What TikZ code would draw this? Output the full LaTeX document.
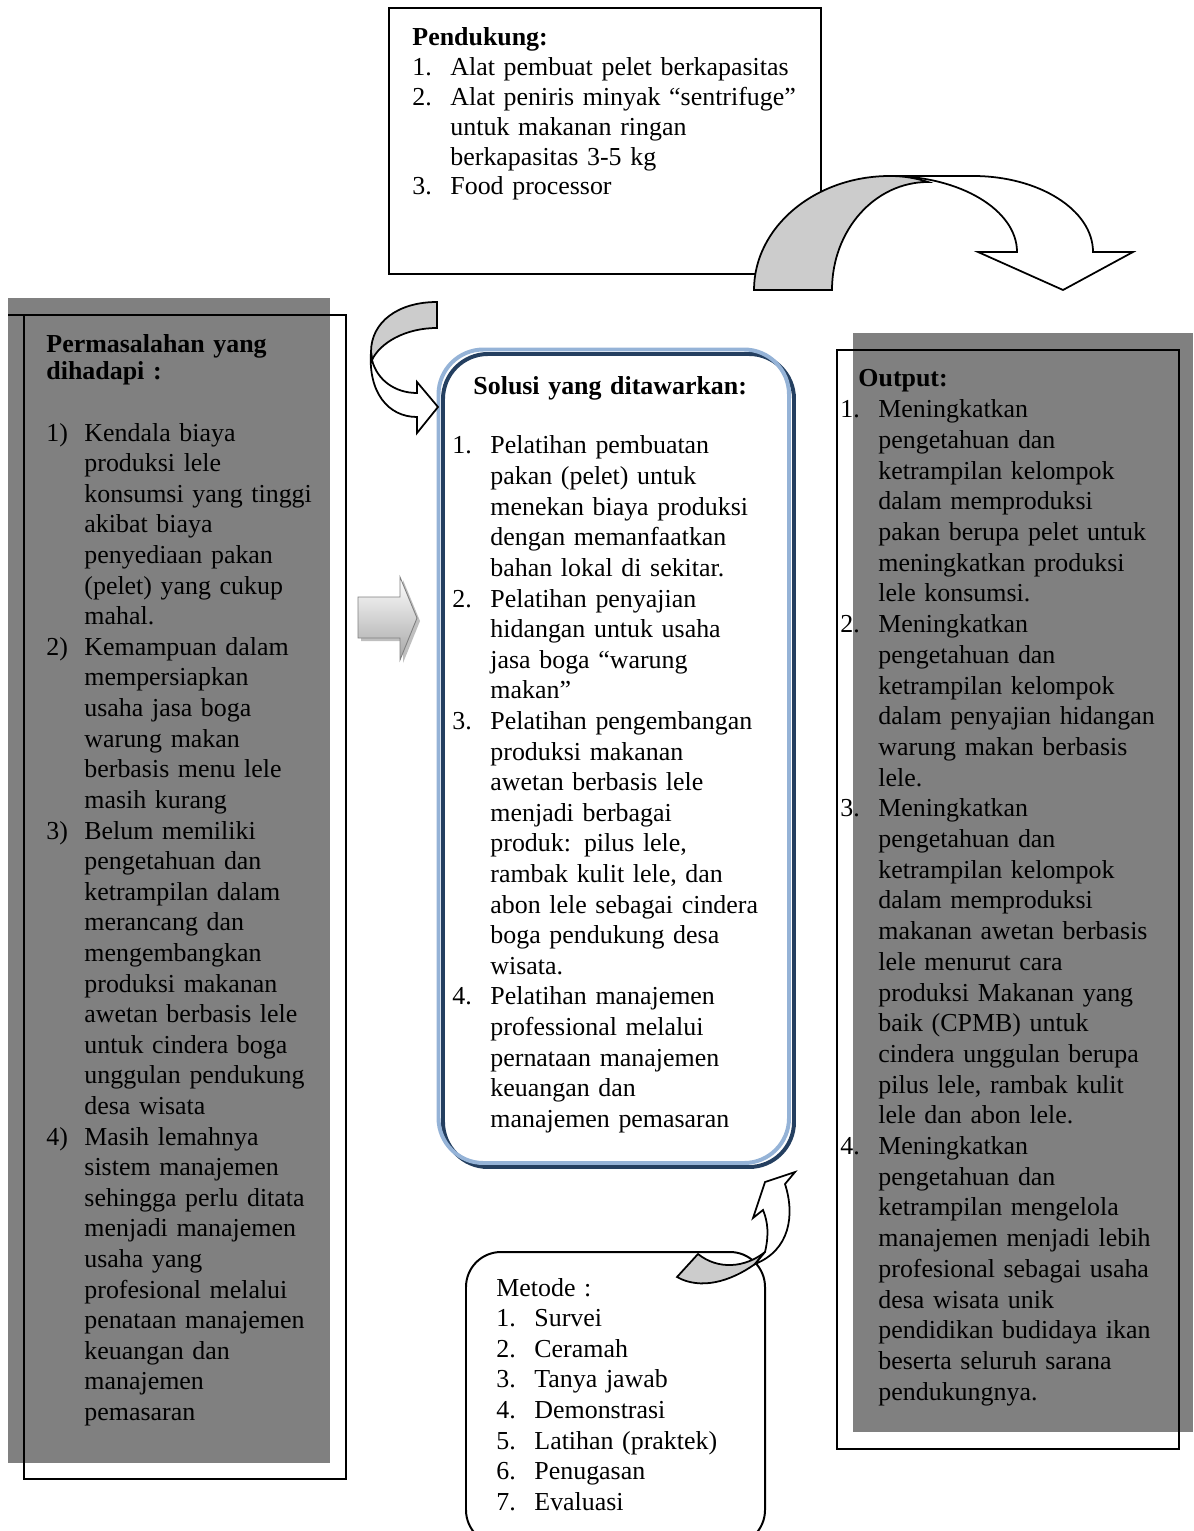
\documentclass[tikz,border=0pt]{standalone}
\usepackage{fontspec}
\setmainfont{Liberation Serif}
\definecolor{abu}{HTML}{808080}
\definecolor{abuMuda}{HTML}{CCCCCC}
\definecolor{biruMuda}{HTML}{95B3D7}
\definecolor{biruTua}{HTML}{243F60}
\newlength{\pxu}\setlength{\pxu}{0.016cm}
\newcommand{\butir}[1]{\par\noindent\hangindent=38\pxu\hangafter=1\relax\makebox[38\pxu][l]{#1}\ignorespaces}
\newcommand{\br}{\hfil\break}
\tikzset{teks/.style={anchor=base west,inner sep=0pt,text width=8cm,font=\fontsize{11.8}{30.6\pxu}\selectfont}}
\begin{document}
\begin{tikzpicture}[x=0.016cm,y=-0.016cm]
        \useasboundingbox (0,0) rectangle (1193,1531);
        % kotak
        \fill[abu] (8,298) rectangle (330,1463);
        \draw[line width=1.2pt] (8,315) -- (346,315) -- (346,1479) -- (24,1479) -- (24,315);
        \fill[abu] (853,333) rectangle (1193,1432);
        \draw[line width=1.2pt] (837,350) rectangle (1179,1449);
        \draw[biruTua,line width=1.8pt,rounded corners=0.72cm] (443,354) rectangle (794,1167);
        \draw[biruMuda,line width=1.8pt,rounded corners=0.72cm] (438.5,349.5) rectangle (789,1163);
        \draw[line width=0.9pt,rounded corners=0.56cm] (466,1252) rectangle (765,1545);
        \draw[line width=0.7pt] (389,8) rectangle (821,274);

        % panah
        \filldraw[fill=white,draw=black,thick] (890,176) -- (973,176) .. controls (1039,176) and (1093,210) .. (1093,252) -- (1133,252) -- (1063,290) -- (978,252) -- (1017,252) .. controls (1017,210) and (960,176) .. (890,176) -- cycle;
        \filldraw[fill=abuMuda,draw=black,thick] (754,290) .. controls (754,227) and (815,176) .. (890,176) .. controls (903,176) and (916,178) .. (928,182) .. controls (875,182) and (832,230) .. (832,290) -- cycle;

        \filldraw[fill=abuMuda,draw=black,thick] (437,302) -- (437,328) .. controls (405,328) and (380,343) .. (372,360) -- (371,352) .. controls (371,322) and (398,302) .. (437,302) -- cycle;
        \filldraw[fill=white,draw=black,thick] (371,352) .. controls (368,392) and (388,417) .. (417,417) -- (417,433) -- (438,407) -- (417,382) -- (417,393) .. controls (395,393) and (377,380) .. (372,360) -- cycle;

        \filldraw[fill=abuMuda,draw=black,thick] (677,1277) -- (698,1254) .. controls (718,1270) and (745,1268) .. (765,1252) -- (755,1264) .. controls (730,1282) and (700,1290) .. (677,1277) -- cycle;
        \filldraw[fill=white,draw=black,thick] (765,1252) .. controls (769,1235) and (768,1222) .. (763,1210) -- (753,1218) -- (765,1182) -- (795,1172) -- (785,1184) .. controls (795,1215) and (790,1250) .. (755,1264) -- cycle;

        \fill[black!25] (361,600) -- (403,600) -- (403,580) -- (420,621) -- (403,663) -- (403,641) -- (361,641) -- cycle;
        \shade[top color=white,bottom color=black!35,draw=black!50,thin] (358,597) -- (400,597) -- (400,577) -- (417,618) -- (400,660) -- (400,638) -- (358,638) -- cycle;

        % teks
        \node[teks,font=\fontsize{11.8}{29.8\pxu}\selectfont] (pendukung) at (412,46) {\textbf{Pendukung:}
        \butir{1.}Alat pembuat pelet berkapasitas
        \butir{2.}Alat peniris minyak “sentrifuge”\br untuk makanan ringan\br berkapasitas 3-5 kg
        \butir{3.}Food processor\par};

        \node[teks] (masalah) at (46,353) {\textbf{Permasalahan yang}\vadjust{\vskip-3.6\pxu}\br \textbf{dihadapi :}\par\vspace{30.6\pxu}
        \butir{1)}Kendala biaya\br produksi lele\br konsumsi yang tinggi\br akibat biaya\br penyediaan pakan\br (pelet) yang cukup\br mahal.
        \butir{2)}Kemampuan dalam\br mempersiapkan\br usaha jasa boga\br warung makan\br berbasis menu lele\br masih kurang
        \butir{3)}Belum memiliki\br pengetahuan dan\br ketrampilan dalam\br merancang dan\br mengembangkan\br produksi makanan\br awetan berbasis lele\br untuk cindera boga\br unggulan pendukung\br desa wisata
        \butir{4)}Masih lemahnya\br sistem manajemen\br sehingga perlu ditata\br menjadi manajemen\br usaha yang\br profesional melalui\br penataan manajemen\br keuangan dan\br manajemen\br pemasaran\par};

        \node[teks] (solusi) at (452,395) {\hspace*{21\pxu}\textbf{Solusi yang ditawarkan:}\par\vspace{28.4\pxu}
        \butir{1.}Pelatihan pembuatan\br pakan (pelet) untuk\br menekan biaya produksi\br dengan memanfaatkan\br bahan lokal di sekitar.
        \butir{2.}Pelatihan penyajian\br hidangan untuk usaha\br jasa boga “warung\br makan”
        \butir{3.}Pelatihan pengembangan\br produksi makanan\br awetan berbasis lele\br menjadi berbagai\br produk: pilus lele,\br rambak kulit lele, dan\br abon lele sebagai cindera\br boga pendukung desa\br wisata.
        \butir{4.}Pelatihan manajemen\br professional melalui\br pernataan manajemen\br keuangan dan\br manajemen pemasaran\par};

        \node[teks,font=\fontsize{11.8}{30.7\pxu}\selectfont] (luaran) at (840,387) {\hspace*{18\pxu}\textbf{Output:}
        \butir{1.}Meningkatkan\br pengetahuan dan\br ketrampilan kelompok\br dalam memproduksi\br pakan berupa pelet untuk\br meningkatkan produksi\br lele konsumsi.
        \butir{2.}Meningkatkan\br pengetahuan dan\br ketrampilan kelompok\br dalam penyajian hidangan\br warung makan berbasis\br lele.
        \butir{3.}Meningkatkan\br pengetahuan dan\br ketrampilan kelompok\br dalam memproduksi\br makanan awetan berbasis\br lele menurut cara\br produksi Makanan yang\br baik (CPMB) untuk\br cindera unggulan berupa\br pilus lele, rambak kulit\br lele dan abon lele.
        \butir{4.}Meningkatkan\br pengetahuan dan\br ketrampilan mengelola\br manajemen menjadi lebih\br profesional sebagai usaha\br desa wisata unik\br pendidikan budidaya ikan\br beserta seluruh sarana\br pendukungnya.\par};

        \node[teks] (metode) at (496,1296) {Metode :
        \butir{1.}Survei
        \butir{2.}Ceramah
        \butir{3.}Tanya jawab
        \butir{4.}Demonstrasi
        \butir{5.}Latihan (praktek)
        \butir{6.}Penugasan
        \butir{7.}Evaluasi\par};
    \end{tikzpicture}
\end{document}
